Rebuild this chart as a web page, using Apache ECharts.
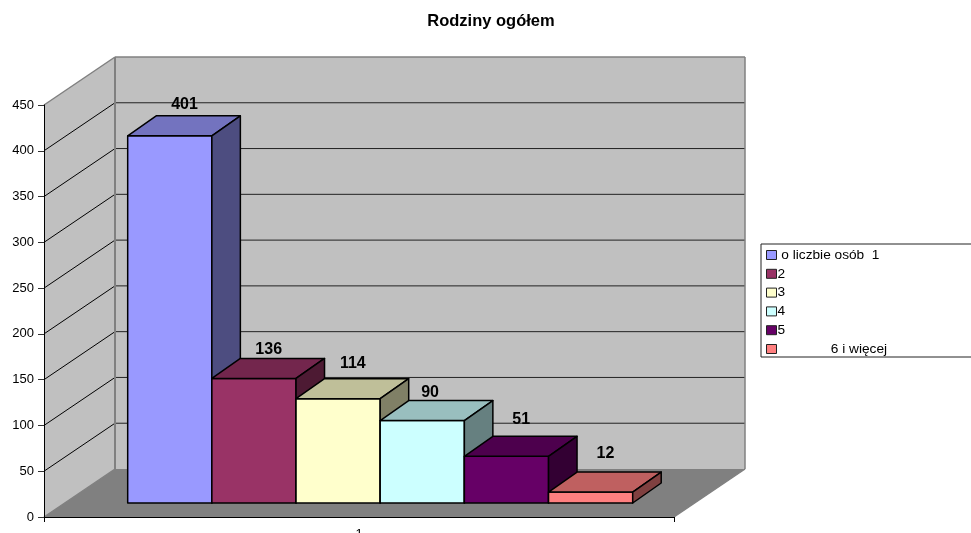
<!DOCTYPE html>
<html><head><meta charset="utf-8">
<style>html,body{margin:0;padding:0;background:#fff;overflow:hidden}#c{width:971px;height:533px}</style>
<script src="https://cdn.jsdelivr.net/npm/echarts@6/dist/echarts.min.js"></script>
</head><body><div id="c"></div>
<script>
const titleText = 'Rodziny ogółem';
const categories = ['1'];
const seriesNames = [' o liczbie osób  1', '2', '3', '4', '5', '              6 i więcej'];
const seriesValues = [401, 136, 114, 90, 51, 12];
const seriesColors = ['#9999FF', '#993366', '#FFFFCC', '#CCFFFF', '#660066', '#FF8080'];
const yTicks = [0, 50, 100, 150, 200, 250, 300, 350, 400, 450];

// projection constants (pixels)
const WALL_DX = 71, WALL_DY = 48;      // depth of the chart box
const PLANE_DX = 21.2, PLANE_DY = 14;  // front plane of the bars
const BAR_DX = 28.5, BAR_DY = 20;      // depth of a bar
const BAR_FRACTION = 84.17 / 630;      // bar width relative to the category band
const LABEL_LIFT = [11, 8.5, 15.5, 8, 17, 18.5];
const LABEL_SHIFT = [0.5, 0.5, 0.5, -6.5, 0.5, 0.5];

function shade(hex, k) {
  const n = parseInt(hex.slice(1), 16);
  const c = [n >> 16, (n >> 8) & 255, n & 255].map(v => Math.round(v * k));
  return 'rgb(' + c.join(',') + ')';
}

function renderWalls(params, api) {
  const o = api.coord([0, 0]);
  const top = api.coord([0, 450]);
  const bw = api.size([1, 0])[0];
  const L = o[0] - bw / 2, R = o[0] + bw / 2, B = o[1], T = top[1];
  const kids = [];
  const poly = (pts, fill, stroke, w) => kids.push({
    type: 'polygon', shape: { points: pts },
    style: { fill: fill, stroke: stroke || null, lineWidth: w || 0 }
  });
  const line = (a, b, stroke, w) => kids.push({
    type: 'line', shape: { x1: a[0], y1: a[1], x2: b[0], y2: b[1] },
    style: { stroke: stroke, lineWidth: w }
  });
  poly([[L + WALL_DX, T - WALL_DY], [R + WALL_DX, T - WALL_DY], [R + WALL_DX, B - WALL_DY], [L + WALL_DX, B - WALL_DY]], '#C0C0C0');
  poly([[L, T], [L + WALL_DX, T - WALL_DY], [L + WALL_DX, B - WALL_DY], [L, B]], '#C0C0C0');
  poly([[L, B], [L + WALL_DX, B - WALL_DY], [R + WALL_DX, B - WALL_DY], [R, B]], '#808080');
  yTicks.slice(1, -1).forEach(v => {
    const y = api.coord([0, v])[1];
    line([L, y], [L + WALL_DX, y - WALL_DY], '#000', 1);
    line([L + WALL_DX, y - WALL_DY], [R + WALL_DX, y - WALL_DY], '#222', 1);
  });
  line([L, T], [L + WALL_DX, T - WALL_DY], '#808080', 1.5);
  line([L + WALL_DX, T - WALL_DY], [R + WALL_DX, T - WALL_DY], '#808080', 1.5);
  line([L + WALL_DX, T - WALL_DY], [L + WALL_DX, B - WALL_DY], '#808080', 2);
  line([R + WALL_DX, T - WALL_DY], [R + WALL_DX, B - WALL_DY], '#808080', 1.5);
  line([L, B], [L + WALL_DX, B - WALL_DY], '#808080', 1.5);
  line([R, B], [R + WALL_DX, B - WALL_DY], '#808080', 1.5);
  return { type: 'group', children: kids };
}

function barRenderer(i) {
  return function (params, api) {
    const base = api.coord([api.value(0), 0]);
    const tip = api.coord([api.value(0), api.value(1)]);
    const bw = api.size([1, 0])[0] * BAR_FRACTION;
    const x0 = base[0] + PLANE_DX + (i - seriesValues.length / 2) * bw;
    const x1 = x0 + bw;
    const y0 = base[1] - PLANE_DY;
    const y1 = tip[1] - PLANE_DY;
    const col = seriesColors[i];
    const edge = { stroke: '#000', lineWidth: 1.5, lineJoin: 'round' };
    return {
      type: 'group',
      children: [
        { type: 'polygon', shape: { points: [[x0, y1], [x1, y1], [x1, y0], [x0, y0]] }, style: Object.assign({ fill: col }, edge) },
        { type: 'polygon', shape: { points: [[x0, y1], [x0 + BAR_DX, y1 - BAR_DY], [x1 + BAR_DX, y1 - BAR_DY], [x1, y1]] }, style: Object.assign({ fill: shade(col, 0.75) }, edge) },
        { type: 'polygon', shape: { points: [[x1, y1], [x1 + BAR_DX, y1 - BAR_DY], [x1 + BAR_DX, y0 - BAR_DY], [x1, y0]] }, style: Object.assign({ fill: shade(col, 0.5) }, edge) },
        { type: 'text', z2: 10, style: {
            x: (x0 + x1 + BAR_DX) / 2 + LABEL_SHIFT[i], y: y1 - BAR_DY - LABEL_LIFT[i],
            text: String(api.value(1)), fill: '#000',
            font: 'bold 16px "Liberation Sans", Arial, sans-serif',
            align: 'center', verticalAlign: 'middle' } }
      ]
    };
  };
}

const chart = echarts.init(document.getElementById('c'), null, { renderer: 'canvas' });
const barSeries = seriesNames.map((name, i) => ({
  type: 'custom', name: name, z: 3 + i, clip: false, silent: true,
  itemStyle: { color: seriesColors[i] },
  encode: { x: 0, y: 1 },
  data: [[0, seriesValues[i]]],
  renderItem: barRenderer(i)
}));
chart.setOption({
  animation: false,
  backgroundColor: '#fff',
  title: {
    text: titleText, left: 491, top: 13, textAlign: 'center', padding: 0,
    textStyle: { fontFamily: '"Liberation Sans", Arial, sans-serif', fontSize: 16.5, fontWeight: 'bold', color: '#000' }
  },
  grid: { left: 44, top: 105, width: 630, height: 412, outerBoundsMode: 'none' },
  xAxis: {
    type: 'category', data: categories, z: 20,
    axisLine: { lineStyle: { color: '#000', width: 1 } },
    axisTick: { show: true, length: 5, lineStyle: { color: '#000' } },
    axisLabel: { margin: 11, fontSize: 13, color: '#000', fontFamily: '"Liberation Sans", Arial, sans-serif' }
  },
  yAxis: {
    type: 'value', min: 0, max: 450, interval: 50, z: 20,
    splitLine: { show: false },
    axisLine: { show: true, lineStyle: { color: '#000', width: 1 } },
    axisTick: { show: true, length: 6, lineStyle: { color: '#333', width: 1 } },
    axisLabel: { margin: 10, fontSize: 13, color: '#000', fontFamily: '"Liberation Sans", Arial, sans-serif',
      customValues: yTicks }
  },
  legend: {
    show: true, orient: 'vertical', left: 761, top: 244, align: 'left', icon: 'rect',
    data: seriesNames,
    padding: [4, 120, 1, 5],
    itemWidth: 10, itemHeight: 9, itemGap: 4.8,
    selectedMode: false,
    borderColor: '#222', borderWidth: 1, backgroundColor: '#fff',
    itemStyle: { borderColor: '#222', borderWidth: 1 },
    textStyle: { fontFamily: '"Liberation Sans", Arial, sans-serif', fontSize: 13.7, color: '#000', padding: [0, 0, 0, -4] }
  },
  series: [{
    type: 'custom', name: 'walls', z: 1, silent: true, clip: false,
    encode: { x: 0, y: 1 }, data: [[0, 0]], renderItem: renderWalls
  }].concat(barSeries)
});
</script></body></html>
